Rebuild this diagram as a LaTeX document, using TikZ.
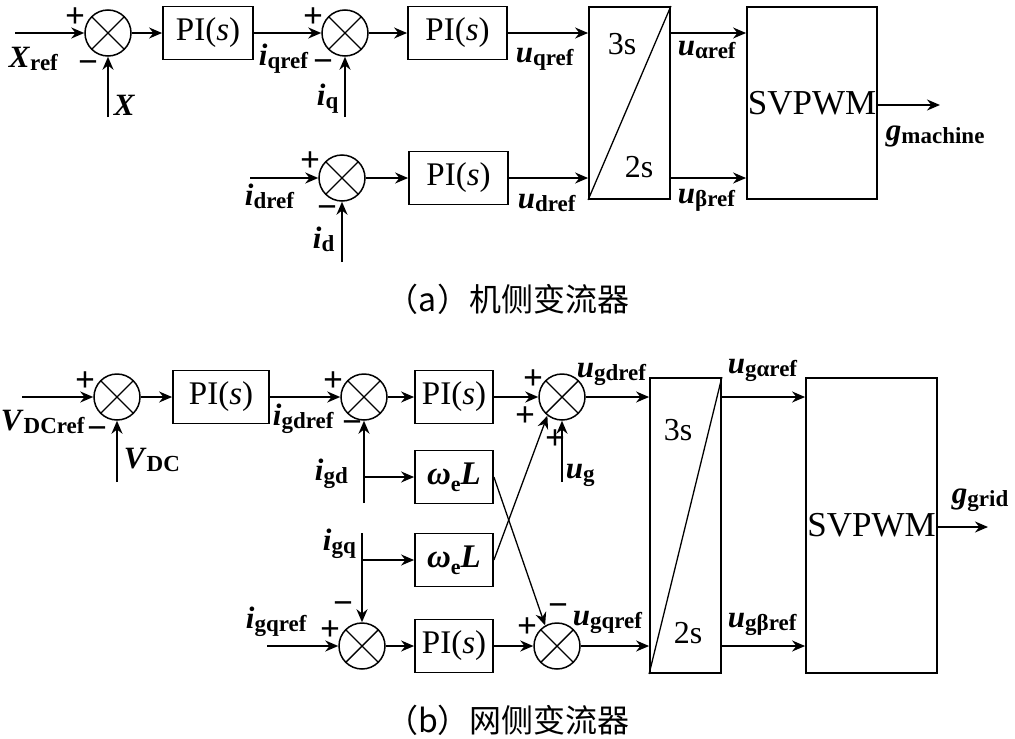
\documentclass[tikz,border=0pt]{standalone}
\usepackage{fontspec}
\setmainfont{Liberation Serif}
\newfontfamily\cjk{Noto Sans CJK SC}
\usetikzlibrary{arrows.meta}
\newcommand\vs[2]{\textbf{\textit{#1}}\raisebox{-3pt}{\fontsize{23}{23}\selectfont\bfseries #2}}
\newcommand\wel{\textbf{\textit{ω}}\raisebox{-7pt}{\fontsize{22}{22}\selectfont\bfseries e}\textbf{\textit{L}}}
\begin{document}
\begin{tikzpicture}[x=1pt,y=-1pt,line width=1.8pt,
  >={Stealth[length=13pt,width=11pt]},
  sum/.style={circle,draw,line width=1.5pt,minimum size=46pt,inner sep=0pt,
    path picture={\draw[line width=1.4pt] (path picture bounding box.south west) -- (path picture bounding box.north east)
      (path picture bounding box.north west) -- (path picture bounding box.south east);}},
  blk/.style={draw,inner sep=0pt,minimum height=53pt,font=\fontsize{33}{33}\selectfont},
  lbl/.style={anchor=base west,inner sep=0pt,font=\fontsize{31}{31}\selectfont},
  sgn/.style={inner sep=0pt,font=\fontsize{35}{35}\selectfont\bfseries},
  ttxt/.style={inner sep=0pt,font=\fontsize{32}{32}\selectfont},
  thinln/.style={line width=1.3pt},
  captxt/.style={inner sep=0pt,font=\cjk\fontsize{32}{32}\selectfont}]
\useasboundingbox (0,0) rectangle (1015,739);
% ---------------- (a) ----------------
\node[sum] (s1) at (108,33) {};
\node[blk,minimum width=90pt] (pi1) at (208,33) {PI(\textit{s})};
\node[sum] (s2) at (345,33) {};
\node[blk,minimum width=99pt] (pi2) at (457.5,33) {PI(\textit{s})};
\node[sum] (s3) at (342,178) {};
\node[blk,minimum width=99pt] (pi3) at (458.5,178) {PI(\textit{s})};
\node[draw,inner sep=0pt,minimum width=81pt,minimum height=192pt] (t1) at (629.5,103) {};
\draw[thinln] (t1.south west) -- (t1.north east);
\node[ttxt] (t1a) at (622,44) {3s};
\node[ttxt] (t1b) at (639,167) {2s};
\node[draw,inner sep=0pt,minimum width=130pt,minimum height=192pt,font=\fontsize{35}{35}\selectfont] (sv1) at (812,103) {SVPWM};

\coordinate (xin) at (15,33);
\coordinate (xfb) at (108,117);
\coordinate (iqfb) at (345,117);
\coordinate (idin) at (250,178);
\coordinate (idfb) at (342,262);
\coordinate (gm) at (940,105);
\draw[->] (xin) -- (s1.west);
\draw[->] (xfb) -- (s1.south);
\draw[->] (s1.east) -- (pi1.west);
\draw[->] (pi1.east) -- (s2.west);
\draw[->] (iqfb) -- (s2.south);
\draw[->] (s2.east) -- (pi2.west);
\draw[->] (pi2.east) -- (pi2.east -| t1.west);
\draw[->] (idin) -- (s3.west);
\draw[->] (idfb) -- (s3.south);
\draw[->] (s3.east) -- (pi3.west);
\draw[->] (pi3.east) -- (pi3.east -| t1.west);
\draw[->] (t1.east |- pi2.east) -- (sv1.west |- pi2.east);
\draw[->] (t1.east |- pi3.east) -- (sv1.west |- pi3.east);
\draw[->] (sv1.east |- gm) -- (gm);

\node[sgn] (p1) at (75,17.5) {+};
\node[sgn] (m1) at (88,67) {−};
\node[lbl] (lxr) at (8,67) {\vs{X}{ref}};
\node[lbl] (lx) at (113,115) {\textbf{\textit{X}}};
\node[lbl] (liqr) at (258,65) {\vs{i}{qref}};
\node[sgn] (p2) at (313,17.5) {+};
\node[sgn] (m2) at (323,66) {−};
\node[lbl] (liq) at (316,105) {\vs{i}{q}};
\node[lbl] (luq) at (515,62) {\vs{u}{qref}};
\node[lbl] (lua) at (677,55) {\vs{u}{αref}};
\node[lbl] (lub) at (677,203) {\vs{u}{βref}};
\node[lbl] (lgm) at (885,140) {\vs{g}{machine}};
\node[sgn] (p3) at (310,162) {+};
\node[sgn] (m3) at (327,212) {−};
\node[lbl] (lidr) at (244,205) {\vs{i}{dref}};
\node[lbl] (lid) at (312,248) {\vs{i}{d}};
\node[lbl] (lud) at (517,208) {\vs{u}{dref}};
\node[captxt] (capa) at (508,299) {（a）机侧变流器};

% ---------------- (b) ----------------
\node[sum] (b1) at (117,397) {};
\node[blk,minimum width=96pt] (pb1) at (221,397) {PI(\textit{s})};
\node[sum] (b2) at (364,397) {};
\node[blk,minimum width=78pt] (pb2) at (454,397) {PI(\textit{s})};
\node[sum] (b3) at (562,397) {};
\node[blk,minimum width=78pt] (wl1) at (454,477) {\wel};
\node[blk,minimum width=78pt] (wl2) at (454,560) {\wel};
\node[sum] (b4) at (362,646) {};
\node[blk,minimum width=78pt] (pb3) at (454,646) {PI(\textit{s})};
\node[sum] (b5) at (557,646) {};
\node[draw,inner sep=0pt,minimum width=71pt,minimum height=295pt] (t2) at (685.5,525.5) {};
\draw[thinln] (t2.south west) -- (t2.north east);
\node[ttxt] (t2a) at (678,430) {3s};
\node[ttxt] (t2b) at (688,633) {2s};
\node[draw,inner sep=0pt,minimum width=131pt,minimum height=295pt,font=\fontsize{35}{35}\selectfont] (sv2) at (871.5,525.5) {SVPWM};

\coordinate (vin) at (22,397);
\coordinate (vfb) at (117,482);
\coordinate (igd) at (364,503);
\coordinate (ug) at (562,482);
\coordinate (igq) at (362,533);
\coordinate (igqr) at (267,646);
\coordinate (gg) at (988,527);
\draw[->] (vin) -- (b1.west);
\draw[->] (vfb) -- (b1.south);
\draw[->] (b1.east) -- (pb1.west);
\draw[->] (pb1.east) -- (b2.west);
\draw[->] (igd) -- (b2.south);
\draw[->] (igd |- wl1.west) -- (wl1.west);
\draw[->] (b2.east) -- (pb2.west);
\draw[->] (pb2.east) -- (b3.west);
\draw[->] (ug) -- (b3.south);
\draw[->] (b3.east) -- (b3.east -| t2.west);
\draw[->] (igq) -- (b4.north);
\draw[->] (igq |- wl2.west) -- (wl2.west);
\draw[->] (igqr) -- (b4.west);
\draw[->] (b4.east) -- (pb3.west);
\draw[->] (pb3.east) -- (b5.west);
\draw[->] (b5.east) -- (b5.east -| t2.west);
\draw[->,thinln] (wl1.east) -- (b5.120);
\draw[->,thinln] (wl2.east) -- (b3.232);
\draw[->] (t2.east |- b3.east) -- (sv2.west |- b3.east);
\draw[->] (t2.east |- b5.east) -- (sv2.west |- b5.east);
\draw[->] (sv2.east |- gg) -- (gg);

\node[sgn] (p4) at (85,382) {+};
\node[sgn] (m4) at (97,433) {−};
\node[lbl] (lvr) at (0,430) {\vs{V}{DCref}};
\node[lbl] (lv) at (123,468) {\vs{V}{DC}};
\node[lbl] (ligdr) at (272,425) {\vs{i}{gdref}};
\node[sgn] (p5) at (333,382) {+};
\node[sgn] (m5) at (352,427) {−};
\node[lbl] (ligd) at (314,480) {\vs{i}{gd}};
\node[sgn] (p6) at (533,380) {+};
\node[sgn] (p7) at (525,417) {+};
\node[sgn] (p8) at (555,440) {+};
\node[lbl] (lugd) at (576,377) {\vs{u}{gdref}};
\node[lbl] (lug) at (565,478) {\vs{u}{g}};
\node[lbl] (ligq) at (322,550) {\vs{i}{gq}};
\node[lbl] (ligqr) at (245,628) {\vs{i}{gqref}};
\node[sgn] (p9) at (330,631) {+};
\node[sgn] (m9) at (343,608) {−};
\node[sgn] (p10) at (527,628) {+};
\node[sgn] (m10) at (558,610) {−};
\node[lbl] (lugq) at (572,625) {\vs{u}{gqref}};
\node[lbl] (luga) at (727,373) {\vs{u}{gαref}};
\node[lbl] (lugb) at (727,627) {\vs{u}{gβref}};
\node[lbl] (lgg) at (951,503) {\vs{g}{grid}};
\node[captxt] (capb) at (508,720) {（b）网侧变流器};
\end{tikzpicture}
\end{document}
